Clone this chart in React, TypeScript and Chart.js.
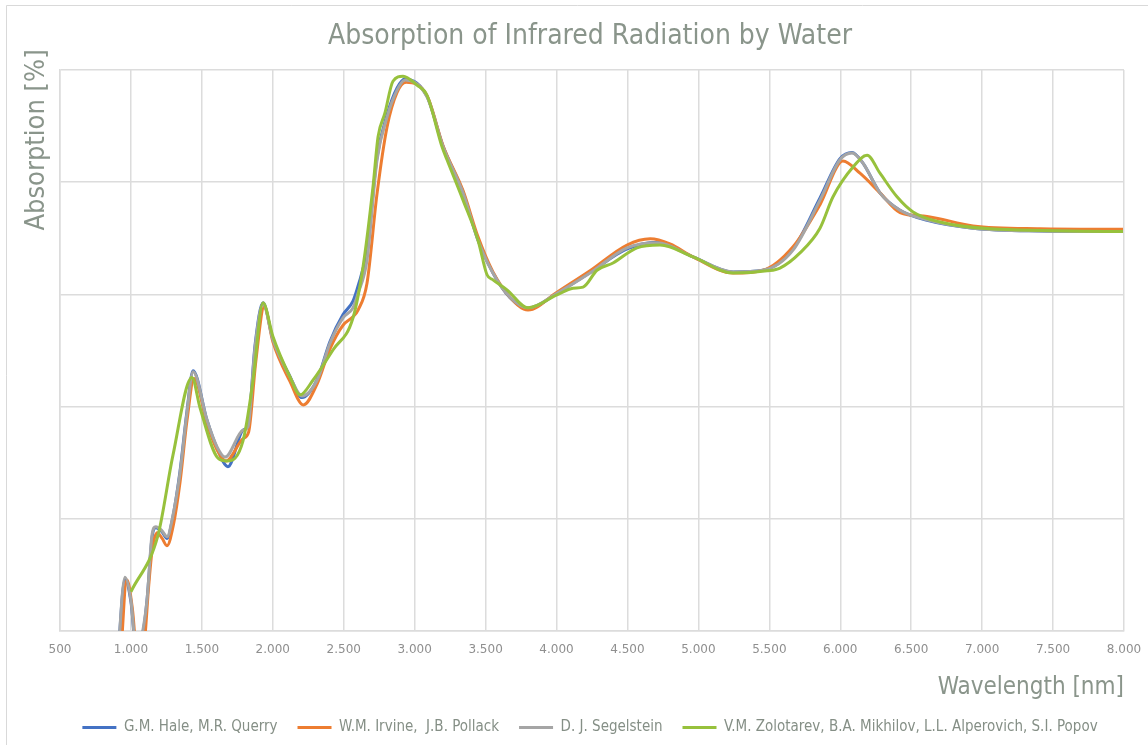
import React, { useEffect, useRef } from "react";
import Chart from "chart.js/auto";

// ---- data (wavelength in nm, absorption in %) ----
const haleWl = [900, 958, 1000, 1040, 1090, 1115, 1148, 1175, 1215, 1255, 1290, 1346, 1395, 1438, 1536, 1607, 1684, 1790, 1825, 1875, 1931, 2001, 2121, 2206, 2312, 2403, 2495, 2565, 2601, 2664, 2735, 2805, 2876, 2932, 3087, 3200, 3341, 3446, 3552, 3672, 3799, 4003, 4236, 4497, 4708, 4962, 5244, 5455, 5667, 5857, 5998, 6083, 6160, 6280, 6421, 6612, 6936, 7408, 7993];
const haleAbs = [-8, 9.2, 5.2, -4, 0.5, 6, 16.5, 18.4, 17.8, 16.5, 19.6, 28.5, 39.2, 46.4, 37.6, 32.6, 29.3, 35.8, 36.6, 51, 58.5, 52, 45.4, 41.6, 44.8, 51.6, 56.4, 58.8, 61.5, 68, 84.5, 92, 96.8, 98.4, 95.3, 86.4, 78.2, 69.7, 63.8, 59.4, 57.5, 60.2, 63.9, 68.1, 69.3, 66.7, 64.0, 64.3, 68.1, 77.2, 84.2, 85.3, 83.4, 78.1, 75.0, 73.2, 71.8, 71.3, 71.2];

const irvineWl = [920, 972, 1010, 1050, 1095, 1125, 1150, 1185, 1220, 1254, 1300, 1346, 1395, 1445, 1536, 1607, 1670, 1790, 1830, 1880, 1940, 2001, 2121, 2215, 2312, 2403, 2495, 2565, 2601, 2664, 2735, 2805, 2876, 2940, 3087, 3200, 3341, 3446, 3552, 3672, 3799, 4003, 4236, 4497, 4660, 4800, 4962, 5244, 5455, 5667, 5857, 6019, 6139, 6280, 6421, 6612, 6936, 7408, 7993];
const irvineAbs = [-8, 9.1, 4, -6, -2, 8, 14.5, 17.5, 16.5, 15.2, 19, 26.5, 37.5, 45.0, 37.0, 32.3, 30.3, 34.3, 35.5, 48, 57.8, 51.5, 44.5, 40.3, 44, 50.3, 54.5, 56, 57.2, 62, 78, 89.8, 96, 97.8, 95.4, 86.5, 78.5, 70.3, 64, 59.5, 57.2, 60.4, 64.2, 68.8, 69.9, 69.0, 66.7, 63.8, 64.3, 68.5, 76, 83.8, 81.6, 78.1, 74.6, 73.9, 72.2, 71.7, 71.6];

const segelsteinWl = [900, 958, 1000, 1040, 1090, 1115, 1148, 1175, 1215, 1255, 1290, 1346, 1395, 1438, 1536, 1607, 1663, 1790, 1825, 1875, 1931, 2001, 2121, 2206, 2312, 2403, 2495, 2565, 2601, 2664, 2735, 2805, 2876, 2932, 3087, 3200, 3341, 3446, 3552, 3672, 3799, 4003, 4236, 4497, 4708, 4962, 5244, 5455, 5667, 5857, 5998, 6083, 6160, 6280, 6421, 6612, 6936, 7408, 7993];
const segelsteinAbs = [-8, 9.6, 5.5, -4, 1, 6, 17, 18.6, 18.0, 16.8, 19.8, 28.2, 38.9, 46.2, 37.6, 32.8, 31.0, 35.8, 36.4, 50.6, 58.3, 51.9, 45.3, 41.9, 44.7, 51.3, 55.8, 57.6, 60.2, 66.1, 84.0, 91.6, 96.4, 98.2, 95.2, 86.3, 78.1, 69.7, 63.8, 59.5, 57.6, 60.2, 63.8, 68.3, 69.2, 66.7, 64.0, 64.3, 67.9, 76.8, 84.0, 85.2, 83.4, 78.1, 75.0, 73.3, 71.8, 71.3, 71.2];

const zolotarevWl = [1000, 1191, 1296, 1430, 1487, 1614, 1677, 1790, 1861, 1931, 2001, 2121, 2192, 2283, 2424, 2565, 2636, 2706, 2742, 2790, 2847, 2918, 3016, 3087, 3193, 3228, 3341, 3446, 3510, 3552, 3651, 3799, 4003, 4116, 4187, 4285, 4398, 4567, 4729, 4962, 5244, 5484, 5575, 5716, 5857, 5949, 6090, 6189, 6280, 6400, 6513, 6703, 7056, 7993];
const zolotarevAbs = [7.0, 17.1, 31.3, 45.2, 39.8, 30.8, 30.3, 33.9, 44.7, 58.5, 52.5, 45.3, 42.1, 44.7, 50.1, 55.8, 64.9, 79.1, 88.1, 92.3, 98.0, 98.9, 97.3, 95.5, 86.3, 84.0, 76.8, 69.7, 63.5, 62.6, 60.8, 57.6, 59.9, 61.1, 61.3, 64.3, 65.6, 68.3, 68.8, 66.7, 63.8, 64.2, 64.7, 67.4, 71.8, 77.4, 82.7, 84.8, 81.6, 77.4, 74.7, 72.9, 71.7, 71.2];

const seriesNames = [
  "G.M. Hale, M.R. Querry",
  "W.M. Irvine,  J.B. Pollack",
  "D. J. Segelstein",
  "V.M. Zolotarev, B.A. Mikhilov, L.L. Alperovich, S.I. Popov",
];
const seriesColors = ["#4472C4", "#ED7D31", "#A5A5A5", "#97C13C"];

const titleText = "Absorption of Infrared Radiation by Water";
const yTitleText = "Absorption [%]";
const xTitleText = "Wavelength [nm]";

const COND = "'DejaVu Sans Condensed', 'DejaVu Sans', sans-serif";
const TEXT_COLOR = "#8a958b";

const toPoints = (xs: number[], ys: number[]) => xs.map((x, i) => ({ x, y: ys[i] }));

const formatThousands = (v: number) =>
  String(Math.round(v)).replace(/\B(?=(\d{3})+(?!\d))/g, ".");

const framePlugin = {
  id: "frame",
  beforeDraw(chart: any) {
    const { ctx, width, height } = chart;
    ctx.save();
    ctx.fillStyle = "#ffffff";
    ctx.fillRect(0, 0, width, height);
    ctx.strokeStyle = "#d9d9d9";
    ctx.lineWidth = 1;
    ctx.beginPath();
    ctx.moveTo(6.5, height);
    ctx.lineTo(6.5, 5.5);
    ctx.lineTo(width, 5.5);
    ctx.stroke();
    ctx.restore();
  },
};

const yTitlePlugin = {
  id: "yTitle",
  afterDraw(chart: any) {
    const { ctx } = chart;
    ctx.save();
    ctx.translate(37, 140);
    ctx.rotate(-Math.PI / 2);
    ctx.font = `27px ${COND}`;
    ctx.fillStyle = TEXT_COLOR;
    ctx.textAlign = "center";
    ctx.textBaseline = "middle";
    ctx.fillText(yTitleText, 0, 0);
    ctx.restore();
  },
};

export default function App() {
  const ref = useRef<HTMLCanvasElement>(null);
  useEffect(() => {
    document.body.style.margin = "0";
    if (!ref.current) return;
    const wls = [haleWl, irvineWl, segelsteinWl, zolotarevWl];
    const abs = [haleAbs, irvineAbs, segelsteinAbs, zolotarevAbs];
    const drawOrder = [3, 2, 1, 0];
    const chart = new Chart(ref.current, {
      type: "line",
      data: {
        datasets: seriesNames.map((name, i) => ({
          label: name,
          data: toPoints(wls[i], abs[i]),
          borderColor: seriesColors[i],
          backgroundColor: seriesColors[i],
          borderWidth: 3,
          pointRadius: 0,
          cubicInterpolationMode: "monotone" as const,
          fill: false,
          clip: 0,
          order: drawOrder[i],
        })),
      },
      options: {
        animation: false,
        responsive: false,
        layout: { padding: { left: 32, right: 0, top: 0, bottom: 0 } },
        plugins: {
          title: {
            display: true,
            text: titleText,
            color: TEXT_COLOR,
            font: { family: COND, size: 28, weight: "normal" },
            padding: { top: 20, bottom: 16.4 },
          },
          legend: {
            position: "bottom",
            labels: {
              color: "#858f86",
              font: { family: COND, size: 15 },
              boxWidth: 34,
              boxHeight: 3,
              padding: 20,
              sort: (a: any, b: any) => a.datasetIndex - b.datasetIndex,
              generateLabels: (c: any) =>
                (Chart as any).defaults.plugins.legend.labels
                  .generateLabels(c)
                  .map((l: any) => ({ ...l, lineWidth: 0, fillStyle: l.strokeStyle })),
            },
          },
          tooltip: { enabled: false },
        },
        scales: {
          x: {
            type: "linear",
            min: 500,
            max: 8000,
            ticks: {
              stepSize: 500,
              color: "#8f8f8f",
              font: { family: "'DejaVu Sans', sans-serif", size: 12 },
              padding: 12,
              maxRotation: 0,
              callback: (v: any) => formatThousands(Number(v)),
            },
            grid: { color: "#dcdcdc", lineWidth: 1.5, drawTicks: false },
            border: { color: "#dcdcdc", width: 1.5 },
            title: {
              display: true,
              text: xTitleText,
              align: "end",
              color: TEXT_COLOR,
              font: { family: COND, size: 24 },
              padding: { top: 0, bottom: -2 },
            },
            afterFit: (s: any) => {
              s.height = 69;
              s.paddingRight = 24;
              s.paddingLeft = 0;
            },
          },
          y: {
            min: 0,
            max: 100,
            ticks: { stepSize: 20, display: false },
            grid: { color: "#dcdcdc", lineWidth: 1.5, drawTicks: false },
            border: { color: "#dcdcdc", width: 1.5 },
            afterFit: (s: any) => {
              s.width = 28;
            },
          },
        },
      },
      plugins: [framePlugin, yTitlePlugin],
    });
    return () => chart.destroy();
  }, []);
  return (
    <canvas ref={ref} width={1148} height={745} style={{ display: "block" }} />
  );
}
